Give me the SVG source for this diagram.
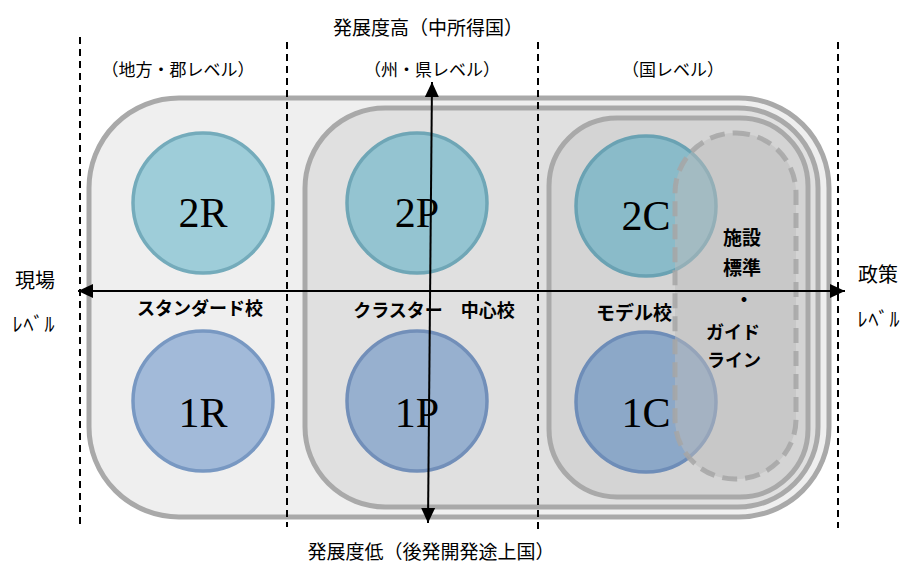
<svg xmlns="http://www.w3.org/2000/svg" width="903" height="565" viewBox="0 0 903 565">
<defs>
<marker id="ah" markerUnits="userSpaceOnUse" markerWidth="16" markerHeight="16" refX="15" refY="7" orient="auto-start-reverse" viewBox="0 0 16 14">
<path d="M0,0 L15,7 L0,14 z" fill="#000"/>
</marker>
<style>
.zone{stroke:#a9a9a9;stroke-width:5}
.div{stroke:#000;stroke-width:2;stroke-dasharray:7 5;fill:none}
.c{stroke-width:3.5}
.lab{font-family:"Liberation Serif","Times New Roman",serif;font-size:42px;fill:#000;text-anchor:middle}
.jp{font-family:"Noto Sans CJK JP",sans-serif;fill:#000;text-anchor:middle}
.hd{font-size:17px}
.bd{font-size:18px;font-weight:bold}
.ax{stroke:#000;stroke-width:2;fill:none}
.lv{font-size:20px;letter-spacing:1px}
</style>
</defs>
<rect width="903" height="565" fill="#fff"/>
<g id="zone-rural"><rect class="zone" x="89" y="98" width="740" height="419" rx="90" fill="#efefef"/></g>
<g id="zone-province"><rect class="zone" x="305" y="108" width="513" height="399" rx="80" fill="#e0e0e0"/></g>
<g id="zone-country"><rect class="zone" x="549" y="118" width="259" height="379" rx="68" fill="#d4d4d4"/></g>
<g id="dividers">
<line class="div" x1="80" y1="37" x2="80" y2="528"/>
<line class="div" x1="287" y1="42" x2="287" y2="527"/>
<line class="div" x1="538" y1="42" x2="538" y2="534"/>
<line class="div" x1="838" y1="42" x2="838" y2="528"/>
</g>
<g id="n2R"><circle class="c" cx="203" cy="203" r="70" fill="#9ecdd9" stroke="#74abbb"/><text class="lab" x="203" y="227">2R</text></g>
<g id="n2P"><circle class="c" cx="417" cy="203" r="70" fill="#94c4d1" stroke="#6fa6b6"/><text class="lab" x="417" y="227">2P</text></g>
<g id="n2C"><circle class="c" cx="646" cy="206" r="70" fill="#8abbc9" stroke="#6aa2b3"/><text class="lab" x="646" y="230">2C</text></g>
<g id="n1R"><circle class="c" cx="203" cy="401" r="70" fill="#a2bad9" stroke="#7898c2"/><text class="lab" x="203" y="427">1R</text></g>
<g id="n1P"><circle class="c" cx="417" cy="401" r="70" fill="#97b0cf" stroke="#728fb9"/><text class="lab" x="417" y="427">1P</text></g>
<g id="n1C"><circle class="c" cx="646" cy="402" r="70" fill="#8ca8c8" stroke="#6e8db8"/><text class="lab" x="646" y="427">1C</text></g>
<text class="jp bd" x="200" y="315">スタンダード校</text>
<text class="jp bd" x="434" y="317">クラスター　中心校</text>
<text class="jp bd" x="634" y="320" style="font-size:19px">モデル校</text>
<g id="guideline">
<rect x="675" y="133" width="121" height="346" rx="60" fill="#bcbcbc" fill-opacity="0.5" stroke="#a6a6a6" stroke-opacity="0.85" stroke-width="5" stroke-dasharray="15 8"/>
<text class="jp bd" x="742" y="245" style="font-size:19px">施設</text>
<text class="jp bd" x="742" y="275" style="font-size:19px">標準</text>
<text class="jp bd" x="744" y="307" style="font-size:19px">・</text>
<text class="jp bd" x="733" y="339" style="font-size:18px">ガイド</text>
<text class="jp bd" x="734" y="367" style="font-size:18px">ライン</text>
</g>
<g id="axes">
<line class="ax" x1="78" y1="291" x2="845" y2="291" marker-start="url(#ah)" marker-end="url(#ah)"/>
<line class="ax" x1="432" y1="82" x2="428" y2="523" marker-start="url(#ah)" marker-end="url(#ah)"/>
</g>
<g id="labels">
<text class="jp" x="428" y="35" style="font-size:19px">発展度高（中所得国）</text>
<text class="jp" x="431" y="559" style="font-size:19px">発展度低（後発開発途上国）</text>
<text class="jp hd" x="178" y="76">（地方・郡レベル）</text>
<text class="jp hd" x="432" y="76">（州・県レベル）</text>
<text class="jp hd" x="673" y="76">（国レベル）</text>
<text class="jp" x="35" y="288" style="font-size:20px">現場</text>
<text class="jp lv" x="34" y="332">ﾚﾍﾞﾙ</text>
<text class="jp" x="878" y="282" style="font-size:20px">政策</text>
<text class="jp lv" x="879" y="327">ﾚﾍﾞﾙ</text>
</g>
</svg>
